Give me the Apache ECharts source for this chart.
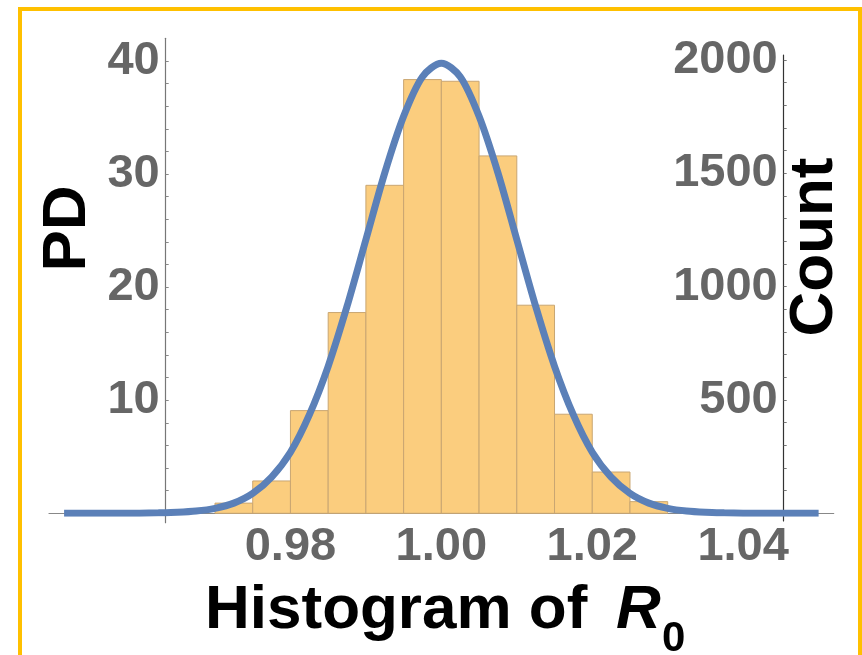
<!DOCTYPE html>
<html>
<head>
    <meta charset="utf-8">
    <title>Histogram of R0</title>
    <script src="https://cdn.jsdelivr.net/npm/echarts@6.0.0/dist/echarts.min.js"></script>
    <style type="text/css">
        body{margin:0;background:#fff;}
        #main{width:862px;height:655px;}
    </style>
</head>
<body>
    <div id="main"></div>
    <script type="text/javascript">
        // histogram bins (left edge) and their height as probability density
        var binWidth = 0.005;
        var binStarts = [0.970, 0.975, 0.980, 0.985, 0.990, 0.995, 1.000, 1.005, 1.010, 1.015, 1.020, 1.025];
        var binPD = [0.9, 2.86, 9.08, 17.75, 29.0, 38.35, 38.2, 31.6, 18.4, 8.76, 3.65, 1.03];

        // fitted density curve (every 0.0025)
        var curveX = [0.950, 0.9525, 0.955, 0.9575, 0.960, 0.9625, 0.965, 0.9675, 0.970, 0.9725, 0.975, 0.9775,
                      0.980, 0.9825, 0.985, 0.9875, 0.990, 0.9925, 0.995, 0.9975, 1.000, 1.0025, 1.005, 1.0075,
                      1.010, 1.0125, 1.015, 1.0175, 1.020, 1.0225, 1.025, 1.0275, 1.030, 1.0325, 1.035, 1.0375,
                      1.040, 1.0425, 1.045, 1.0475, 1.050];
        var curvePD = [0, 0, 0, 0, 0.01, 0.04, 0.09, 0.2, 0.44, 0.9, 1.76, 3.2,
                       5.4, 8.7, 13, 18.3, 24.2, 30.1, 35.1, 38.6, 39.8, 38.6, 35.1, 30.1,
                       24.2, 18.3, 13, 8.7, 5.4, 3.2, 1.76, 0.9, 0.44, 0.2, 0.09, 0.04,
                       0.01, 0, 0, 0, 0];

        // tick labels
        var xLabels = [0.98, 1.00, 1.02, 1.04];
        var pdLabels = [10, 20, 30, 40];
        var pdTicks = [2, 4, 6, 8, 10, 12, 14, 16, 18, 20, 22, 24, 26, 28, 30, 32, 34, 36, 38, 40];
        var countLabels = [500, 1000, 1500, 2000];
        var countTicks = [];
        for (var c = 100; c <= 2000; c += 100) { countTicks.push(c); }

        var font = '"Liberation Sans", Arial, sans-serif';
        var labelStyle = {fontSize: 47, fontWeight: 'bold', color: '#666', fontFamily: font};

        var myChart = echarts.init(document.getElementById('main'));
        var option = {
            animation: false,
            backgroundColor: '#fff',
            grid: [
                {left: 49, top: 38.3, width: 784.7, height: 475},     // plot area
                {left: 165.7, top: 38.3, width: 10, height: 484.4},   // PD axis
                {left: 783.7, top: 55, width: 10, height: 466}        // Count axis
            ],
            xAxis: [
                {
                    gridIndex: 0, type: 'value', min: 0.948, max: 1.052,
                    splitLine: {show: false},
                    axisTick: {show: false},
                    axisLine: {lineStyle: {color: '#888', width: 1.2}},
                    axisLabel: Object.assign({
                        customValues: xLabels, margin: 10,
                        formatter: function (v) { return v.toFixed(2); }
                    }, labelStyle)
                },
                {gridIndex: 1, type: 'value', min: 0, max: 1, show: false},
                {gridIndex: 2, type: 'value', min: 0, max: 1, show: false}
            ],
            yAxis: [
                {gridIndex: 0, type: 'value', min: 0, max: 42, show: false},
                {
                    gridIndex: 1, type: 'value', position: 'left', min: -0.83, max: 42,
                    splitLine: {show: false},
                    axisLine: {show: true, lineStyle: {color: '#777', width: 1.2}},
                    axisTick: {show: true, inside: true, length: 3, customValues: pdTicks, lineStyle: {color: '#888'}},
                    axisLabel: Object.assign({customValues: pdLabels, margin: 6,
                        formatter: function (v) { return String(v); }}, labelStyle)
                },
                {
                    gridIndex: 2, type: 'value', position: 'left', min: -33.5, max: 2021,
                    splitLine: {show: false},
                    axisLine: {show: true, lineStyle: {color: '#333', width: 1.2}},
                    axisTick: {show: true, inside: true, length: 3, customValues: countTicks, lineStyle: {color: '#777'}},
                    axisLabel: Object.assign({customValues: countLabels, margin: 6,
                        formatter: function (v) { return String(v); }}, labelStyle)
                }
            ],
            series: [
                {
                    type: 'custom',
                    xAxisIndex: 0, yAxisIndex: 0,
                    data: binStarts.map(function (s, i) { return [s, s + binWidth, binPD[i]]; }),
                    encode: {x: [0, 1], y: 2},
                    renderItem: function (params, api) {
                        var p0 = api.coord([api.value(0), api.value(2)]);
                        var p1 = api.coord([api.value(1), 0]);
                        return {
                            type: 'rect',
                            shape: {x: p0[0], y: p0[1], width: p1[0] - p0[0], height: p1[1] - p0[1]},
                            style: {fill: '#FBCD7E', stroke: '#C9A672', lineWidth: 1}
                        };
                    },
                    z: 2
                },
                {
                    type: 'line',
                    xAxisIndex: 0, yAxisIndex: 0,
                    data: curveX.map(function (x, i) { return [x, curvePD[i]]; }),
                    smooth: 0.3,
                    symbol: 'none',
                    lineStyle: {color: '#5B80B8', width: 7},
                    z: 3
                }
            ],
            graphic: [
                {
                    type: 'rect', silent: true,
                    shape: {x: 20, y: 9, width: 840, height: 700},
                    style: {fill: 'none', stroke: '#FFC000', lineWidth: 4}
                },
                {
                    type: 'text', x: 68, y: 228.5, rotation: Math.PI / 2,
                    style: {text: 'PD', font: 'bold 62px ' + font, fill: '#000', textAlign: 'center', textVerticalAlign: 'middle'}
                },
                {
                    type: 'text', x: 815, y: 247, rotation: Math.PI / 2,
                    style: {text: 'Count', font: 'bold 62px ' + font, fill: '#000', textAlign: 'center', textVerticalAlign: 'middle'}
                },
                {
                    type: 'text', x: 205, y: 611,
                    style: {text: 'Histogram of ', font: 'bold 62px ' + font, fill: '#000', textAlign: 'left', textVerticalAlign: 'middle'}
                },
                {
                    type: 'text', x: 616, y: 611,
                    style: {text: 'R', font: 'italic bold 62px ' + font, fill: '#000', textAlign: 'left', textVerticalAlign: 'middle'}
                },
                {
                    type: 'text', x: 662, y: 639,
                    style: {text: '0', font: 'bold 42px ' + font, fill: '#000', textAlign: 'left', textVerticalAlign: 'middle'}
                }
            ]
        };
        myChart.setOption(option);
    </script>
</body>
</html>
